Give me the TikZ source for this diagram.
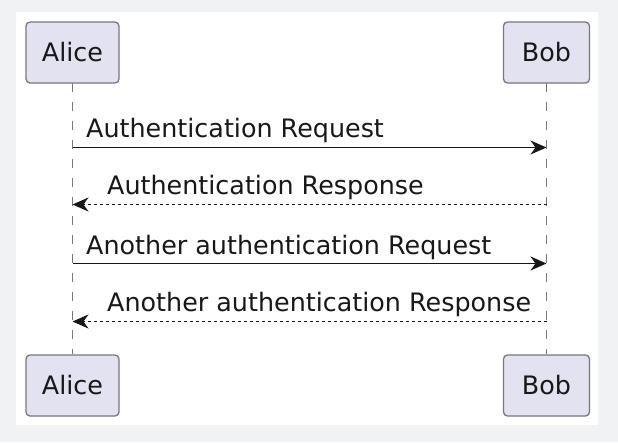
\documentclass[tikz,border=0pt]{standalone}
\usepackage{fontspec}
\setmainfont{DejaVu Sans}
\usetikzlibrary{arrows.meta}
\definecolor{bgout}{RGB}{241,242,244}
\definecolor{boxfill}{RGB}{226,226,240}
\definecolor{boxline}{RGB}{120,120,125}
\definecolor{ink}{RGB}{24,24,24}
\definecolor{lifeline}{RGB}{120,120,120}
\tikzset{
  participant/.style={draw=boxline, line width=1.3pt, fill=boxfill, rounded corners=4pt,
    minimum width=#1, minimum height=61pt, inner sep=0pt, text=ink,
    font=\fontsize{25.4}{30}\selectfont},
  participant/.default=90pt,
  lifeln/.style={draw=lifeline, line width=1.1pt, dash pattern=on 9pt off 10pt},
  msg/.style={draw=ink, line width=1.8pt, -{Stealth[length=16pt,width=14pt,inset=5pt]}},
  reply/.style={draw=ink, line width=1.3pt, dash pattern=on 3pt off 3pt,
    -{Stealth[length=16pt,width=14pt,inset=5pt]}},
  msglabel/.style={anchor=base west, inner sep=0pt, text=ink,
    font=\fontsize{25.4}{30}\selectfont}
}
\begin{document}
\begin{tikzpicture}[x=1pt,y=-1pt]
\useasboundingbox (0,0) rectangle (618,442);
\fill[bgout] (0,0) rectangle (618,442);
\fill[white] (16,12) rectangle (598,425);
% lifelines
\coordinate (atop) at (72.5,83);
\coordinate (abot) at (72.5,354);
\coordinate (btop) at (546.5,83);
\coordinate (bbot) at (546.5,354);
\draw[lifeln] (atop) -- (abot);
\draw[lifeln] (btop) -- (bbot);
% participants
\node[participant=93pt] (alice1) at (72.5,52.5) {Alice};
\node[participant=86pt] (bob1) at (546.5,52.5) {Bob};
\node[participant=93pt] (alice2) at (72.5,385.5) {Alice};
\node[participant=86pt] (bob2) at (546.5,385.5) {Bob};
% message anchors
\coordinate (a1) at (72.5,147.5);
\coordinate (b1) at (546.5,147.5);
\coordinate (a2) at (72.5,204.5);
\coordinate (b2) at (546.5,204.5);
\coordinate (a3) at (72.5,263.5);
\coordinate (b3) at (546.5,263.5);
\coordinate (a4) at (72.5,321.5);
\coordinate (b4) at (546.5,321.5);
\draw[msg] (a1) -- (b1);
\draw[reply] (b2) -- (a2);
\draw[msg] (a3) -- (b3);
\draw[reply] (b4) -- (a4);
\node[msglabel] (l1) at (86,137) {Authentication Request};
\node[msglabel] (l2) at (107,194) {Authentication Response};
\node[msglabel] (l3) at (86,254) {Another authentication Request};
\node[msglabel] (l4) at (107,311) {Another authentication Response};
\end{tikzpicture}
\end{document}
